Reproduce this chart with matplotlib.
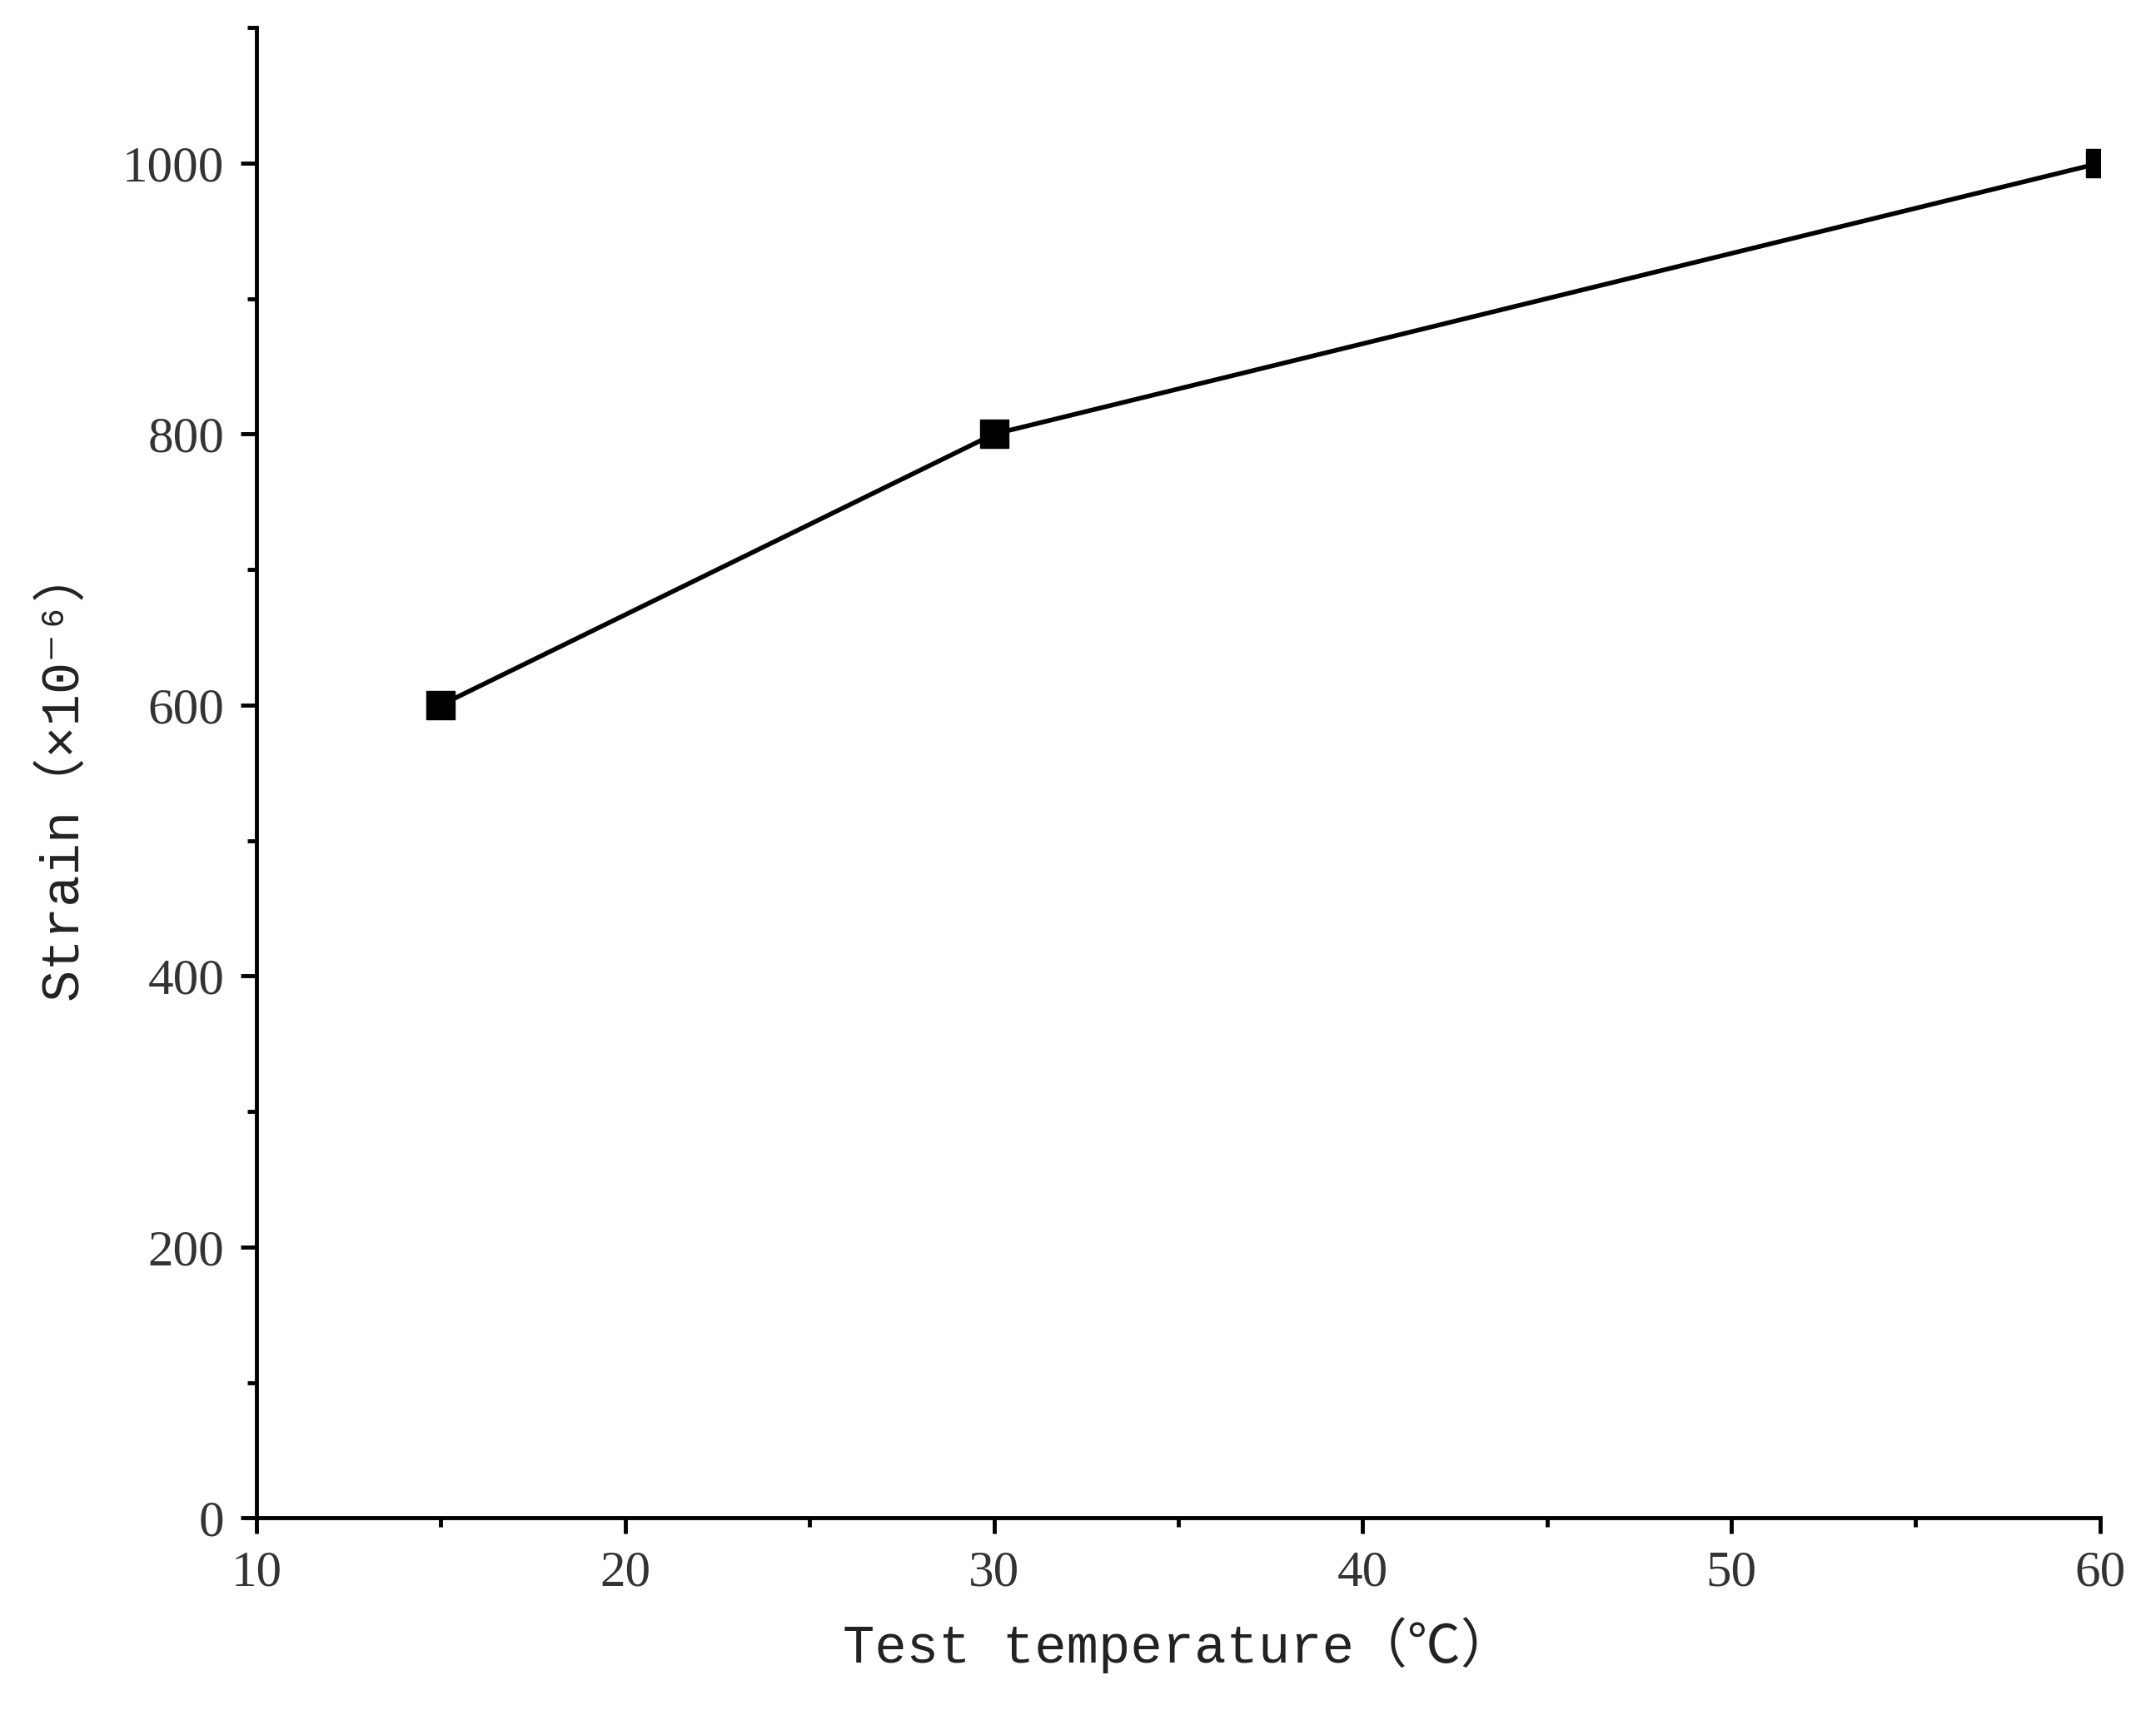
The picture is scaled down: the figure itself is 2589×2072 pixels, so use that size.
import matplotlib
matplotlib.use("Agg")
import matplotlib.pyplot as plt
from matplotlib.ticker import MultipleLocator

temperature = [15, 30, 60]
strain = [600, 800, 1000]

fig = plt.figure(figsize=(25.89, 20.72), dpi=100)
ax = fig.add_axes([0.119, 0.120, 0.855, 0.864])
ax.plot(temperature, strain, color='black', lw=4, marker='s', markersize=24, clip_on=True)
ax.set_xlim(10, 60)
ax.set_ylim(0, 1100)
ax.xaxis.set_major_locator(MultipleLocator(10))
ax.xaxis.set_minor_locator(MultipleLocator(5))
ax.yaxis.set_major_locator(MultipleLocator(200))
ax.yaxis.set_minor_locator(MultipleLocator(100))
for s in ['top', 'right']:
    ax.spines[s].set_visible(False)
for s in ['left', 'bottom']:
    ax.spines[s].set_linewidth(3.5)
ax.tick_params(which='major', direction='out', length=14, width=3.5, labelsize=44, pad=14, colors='black', labelcolor='#333333')
ax.tick_params(which='minor', direction='out', length=8, width=3.5)
for t in ax.get_xticklabels() + ax.get_yticklabels():
    t.set_fontfamily('Liberation Serif')
lab = dict(family=['Liberation Mono', 'Noto Sans CJK SC', 'DejaVu Sans'], fontsize=46, color='#222222')
ax.set_xlabel('Test temperature（℃）', labelpad=18, **lab)
ax.set_ylabel('Strain（×10⁻⁶）', labelpad=30, **lab)
fig.savefig('out.png', dpi=100)
